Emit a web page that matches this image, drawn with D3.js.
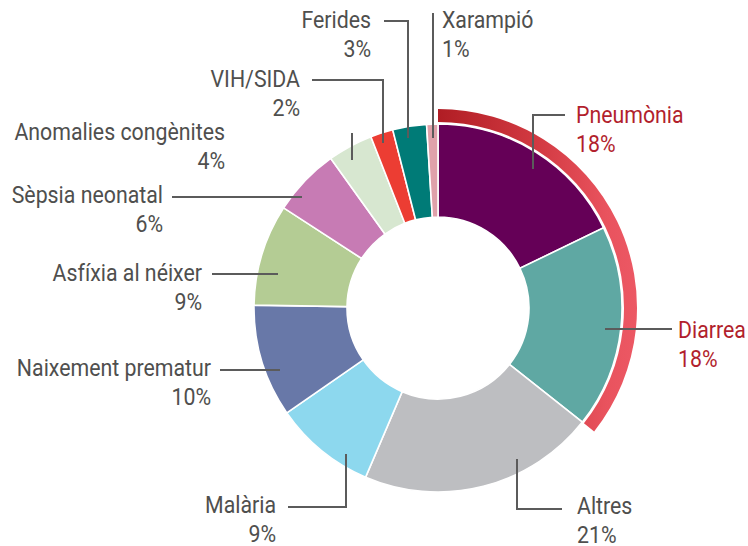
<!DOCTYPE html>
<html>
<head>
<meta charset="utf-8">
<script src="https://cdn.jsdelivr.net/npm/d3@7"></script>
<style>
  html, body { margin: 0; padding: 0; background: #fff; }
  svg { display: block; }
  text { font-family: Roboto, "Open Sans", sans-serif; }
</style>
</head>
<body>
<svg id="chart" width="748" height="546"></svg>
<script>
// data, clockwise from 12 o'clock
const causes = ["Pneumònia", "Diarrea", "Altres", "Malària", "Naixement prematur",
  "Asfíxia al néixer", "Sèpsia neonatal", "Anomalies congènites", "VIH/SIDA", "Ferides", "Xarampió"];
const shares = [18, 18, 21, 9, 10, 9, 6, 4, 2, 3, 1];
const colors = ["#650057", "#5fa8a3", "#bdbec1", "#8dd8ee", "#6878a8",
  "#b4cc94", "#c77bb4", "#d7e7d0", "#ec3d33", "#007b77", "#dfa1aa"];
const highlighted = ["Pneumònia", "Diarrea"];

// label placement (annotation layout only)
const labelPos = {
  "Pneumònia":            { x: 576, y: 123, anchor: "start", leader: [[533, 169], [533, 115], [565, 115]] },
  "Diarrea":              { x: 678, y: 338, anchor: "start", leader: [[605, 329], [672, 329]] },
  "Altres":               { x: 577, y: 514, anchor: "start", leader: [[517, 459], [517, 509], [562, 509]] },
  "Malària":              { x: 276, y: 513, anchor: "end",   leader: [[346, 454], [346, 507], [288, 507]] },
  "Naixement prematur":   { x: 211, y: 376, anchor: "end",   leader: [[280, 370], [220, 370]] },
  "Asfíxia al néixer":    { x: 202, y: 281, anchor: "end",   leader: [[278, 274], [212, 274]] },
  "Sèpsia neonatal":      { x: 163, y: 203, anchor: "end",   leader: [[302, 197], [172, 197]] },
  "Anomalies congènites": { x: 225, y: 140, anchor: "end",   leader: [[352, 160], [352, 133]] },
  "VIH/SIDA":             { x: 300, y: 87,  anchor: "end",   leader: [[383, 143], [383, 80], [312, 80]] },
  "Ferides":              { x: 371, y: 28,  anchor: "end",   leader: [[408, 138], [408, 21], [384, 21]] },
  "Xarampió":             { x: 442, y: 28,  anchor: "start", leader: [[433, 138], [433, 13]] }
};

const cx = 438, cy = 308;
const rOuter = 184, rInner = 91;
const ringInner = 186, ringOuter = 199;
const textGray = "#4f4f4e", textRed = "#b21f2d";
const fontSize = 24.5, squeeze = 0.87, lineGap = 29.5;

const svg = d3.select("#chart");

const defs = svg.append("defs");
const grad = defs.append("linearGradient")
  .attr("id", "ringGrad")
  .attr("gradientUnits", "userSpaceOnUse")
  .attr("x1", 0).attr("y1", 0).attr("x2", ringOuter).attr("y2", 0);
grad.append("stop").attr("offset", "0%").attr("stop-color", "#b01d24");
grad.append("stop").attr("offset", "50%").attr("stop-color", "#d23a42");
grad.append("stop").attr("offset", "85%").attr("stop-color", "#e9535e");
grad.append("stop").attr("offset", "100%").attr("stop-color", "#ec5864");

const table = causes.map((c, i) => ({ cause: c, share: shares[i], color: colors[i] }));

const pie = d3.pie().value(d => d.share).sort(null);
const arcs = pie(table);
const arc = d3.arc().innerRadius(rInner).outerRadius(rOuter);

const g = svg.append("g").attr("transform", `translate(${cx},${cy})`);

g.selectAll("path.slice")
  .data(arcs)
  .join("path")
  .attr("class", "slice")
  .attr("d", arc)
  .attr("fill", d => d.data.color)
  .attr("stroke", "#fff")
  .attr("stroke-width", 1.6)
  .attr("stroke-linejoin", "miter");

// highlight ring over pneumonia + diarrhoea
const hl = arcs.filter(d => highlighted.includes(d.data.cause));
const ringArc = d3.arc().innerRadius(ringInner).outerRadius(ringOuter);
g.append("path")
  .attr("d", ringArc({ startAngle: d3.min(hl, d => d.startAngle), endAngle: d3.max(hl, d => d.endAngle) }))
  .attr("fill", "url(#ringGrad)");

// leaders
const line = d3.line();
svg.append("g").selectAll("path")
  .data(causes)
  .join("path")
  .attr("d", c => line(labelPos[c].leader))
  .attr("fill", "none")
  .attr("stroke", "#5b5b5b")
  .attr("stroke-width", 2);

// labels
const lab = svg.append("g").selectAll("g")
  .data(table)
  .join("g")
  .attr("transform", d => `translate(${labelPos[d.cause].x},${labelPos[d.cause].y}) scale(${squeeze},1)`);

lab.append("text")
  .attr("text-anchor", d => labelPos[d.cause].anchor)
  .attr("font-size", fontSize)
  .attr("fill", d => highlighted.includes(d.cause) ? textRed : textGray)
  .text(d => d.cause);

lab.append("text")
  .attr("y", lineGap)
  .attr("text-anchor", d => labelPos[d.cause].anchor)
  .attr("font-size", fontSize)
  .attr("fill", d => highlighted.includes(d.cause) ? textRed : textGray)
  .text(d => d.share + "%");
</script>
</body>
</html>
